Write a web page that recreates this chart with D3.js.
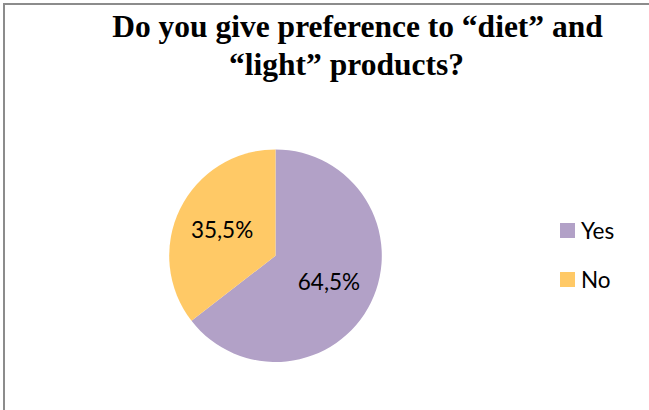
<!DOCTYPE html>
<html>
<head>
<meta charset="utf-8">
<script src="https://cdn.jsdelivr.net/npm/d3@7"></script>
<style>
  html, body { margin: 0; padding: 0; background: #fff; }
  svg { display: block; }
</style>
</head>
<body>
<svg id="chart" width="649" height="410"></svg>
<script>
// Survey answers and their shares (percent)
const categories = ["Yes", "No"];
const values = [64.5, 35.5];
const labels = ["64,5%", "35,5%"];
const colors = ["#B2A1C7", "#FFC966"];
const titleLines = ["Do you give preference to \u201Cdiet\u201D and", "\u201Clight\u201D products?"];

const svg = d3.select("#chart");

// Frame (only the top and left edges fall inside the view)
svg.append("line").attr("x1", 4).attr("y1", 4).attr("x2", 649).attr("y2", 4)
  .attr("stroke", "#8c8c8c").attr("stroke-width", 2);
svg.append("line").attr("x1", 4).attr("y1", 3).attr("x2", 4).attr("y2", 410)
  .attr("stroke", "#8c8c8c").attr("stroke-width", 2);

// Title
const title = svg.append("text")
  .attr("font-family", "'Liberation Serif', 'Times New Roman', serif")
  .attr("font-weight", "bold")
  .attr("font-size", 31.5)
  .attr("fill", "#000")
  .attr("text-anchor", "middle");
title.append("tspan").attr("x", 357.5).attr("y", 37).text(titleLines[0]);
title.append("tspan").attr("x", 346.5).attr("y", 75).text(titleLines[1]);

// Pie
const cx = 275.5, cy = 255.7, r = 106.3;
const data = categories.map((c, i) => ({ cat: c, value: values[i], label: labels[i], color: colors[i] }));
const pie = d3.pie().value(d => d.value).sort(null);
const arc = d3.arc().innerRadius(0).outerRadius(r);
const labelArc = d3.arc().innerRadius(r * 0.56).outerRadius(r * 0.56);

const g = svg.append("g").attr("transform", `translate(${cx},${cy})`);
const arcs = pie(data);
g.selectAll("path").data(arcs).enter().append("path")
  .attr("d", arc)
  .attr("fill", d => d.data.color);

g.selectAll("text.val").data(arcs).enter().append("text")
  .attr("class", "val")
  .attr("transform", d => `translate(${labelArc.centroid(d)})`)
  .attr("text-anchor", "middle")
  .attr("dy", "0.36em")
  .attr("font-family", "Lato, 'Open Sans', sans-serif")
  .attr("font-size", 22.5)
  .attr("fill", "#000")
  .text(d => d.data.label);

// Legend
const legend = svg.append("g").attr("transform", "translate(560,223)");
const item = legend.selectAll("g").data(data).enter().append("g")
  .attr("transform", (d, i) => `translate(0,${i * 49})`);
item.append("rect").attr("width", 15).attr("height", 15).attr("fill", d => d.color);
item.append("text")
  .attr("x", 21).attr("y", 16)
  .attr("font-family", "Lato, 'Open Sans', sans-serif")
  .attr("font-size", 22.5)
  .attr("fill", "#000")
  .text(d => d.cat);
</script>
</body>
</html>
